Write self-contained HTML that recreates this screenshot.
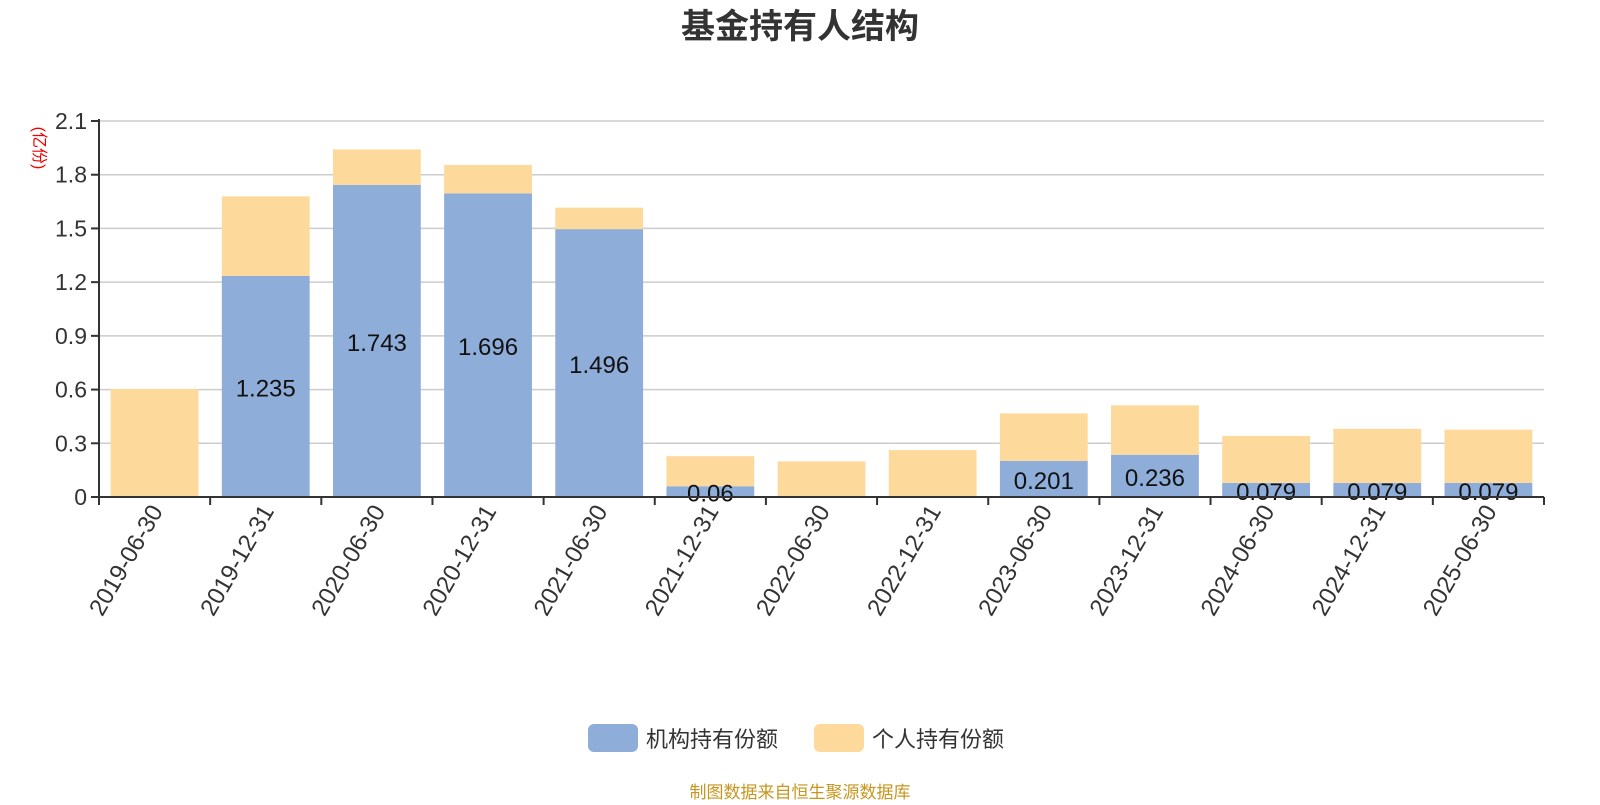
<!DOCTYPE html>
<html><head><meta charset="utf-8"><style>
body{margin:0;background:#fff;width:1600px;height:800px;overflow:hidden;font-family:"Liberation Sans","Noto Sans CJK SC",sans-serif}
</style></head><body>
<svg id="c" width="1600" height="800" style="font-family:'Liberation Sans','Noto Sans CJK SC',sans-serif">
<text x="800" y="38" text-anchor="middle" font-size="34" font-weight="bold" fill="#333">基金持有人结构</text>
<text x="0" y="0" transform="translate(34,148) rotate(90)" text-anchor="middle" font-size="16" fill="#e00">(亿份)</text>
<g id="grid"></g><g id="bars"></g><g id="axes"></g>
<g>
<rect x="588" y="724" width="50" height="28" rx="6" fill="#8eadd9"/>
<text x="646" y="747" font-size="22" fill="#333">机构持有份额</text>
<rect x="814" y="724" width="50" height="28" rx="6" fill="#fdd99b"/>
<text x="872" y="747" font-size="22" fill="#333">个人持有份额</text>
</g>
<text x="800" y="798" text-anchor="middle" font-size="17" fill="#c8961e">制图数据来自恒生聚源数据库</text>
</svg>
<script>
const categories=["2019-06-30","2019-12-31","2020-06-30","2020-12-31","2021-06-30","2021-12-31","2022-06-30","2022-12-31","2023-06-30","2023-12-31","2024-06-30","2024-12-31","2025-06-30"];
const institution=[0,1.235,1.743,1.696,1.496,0.06,0,0,0.201,0.236,0.079,0.079,0.079];
const individual=[0.603,0.444,0.198,0.159,0.12,0.168,0.199,0.262,0.266,0.276,0.262,0.302,0.297];
const yTicks=[0,0.3,0.6,0.9,1.2,1.5,1.8,2.1];
const NS="http://www.w3.org/2000/svg";
const X0=99,X1=1544,Y0=497,Y1=121,YMAX=2.1;
const bw=(X1-X0)/categories.length;
const y=v=>Y0-(v/YMAX)*(Y0-Y1);
const xc=i=>X0+bw*(i+0.5);
function mk(t,a,p){const e=document.createElementNS(NS,t);for(const k in a)e.setAttribute(k,a[k]);p.appendChild(e);return e;}
const grid=document.getElementById('grid'),bars=document.getElementById('bars'),axes=document.getElementById('axes');
yTicks.forEach(v=>{
 if(v>0){const l=mk('line',{x1:X0,x2:X1,y1:y(v),y2:y(v),stroke:'#ccc','stroke-width':1.5},grid);
 
 }
 const tk=mk('line',{x1:X0-8,x2:X0,y1:y(v),y2:y(v),stroke:'#333','stroke-width':2},axes);
 
 
 const t=mk('text',{x:X0-12,y:y(v)+8,'text-anchor':'end','font-size':23,fill:'#333'},axes);
 t.textContent=String(v);
 
 
});
const bwid=bw*0.79;
categories.forEach((c,i)=>{
 const x=xc(i)-bwid/2;
 const r1=mk('rect',{x:x,y:y(institution[i]),width:bwid,height:Y0-y(institution[i]),fill:'#8eadd9'},bars);
 
 
 const tot=institution[i]+individual[i];
 const r2=mk('rect',{x:x,y:y(tot),width:bwid,height:y(institution[i])-y(tot),fill:'#fdd99b'},bars);
 
 
 if(institution[i]>0){
 const lt=mk('text',{x:xc(i),y:(y(institution[i])+Y0)/2+10,'text-anchor':'middle','font-size':24,fill:'#111'},bars);
 lt.textContent=String(institution[i]);
 
 
 }
 const tk=mk('line',{x1:X0+bw*i,x2:X0+bw*i,y1:Y0,y2:Y0+8,stroke:'#333','stroke-width':2},axes);
 
 
 const xt=mk('text',{x:0,y:0,transform:`translate(${xc(i)+9},${Y0+14}) rotate(-60)`,'text-anchor':'end','font-size':24,fill:'#333'},axes);
 xt.textContent=c;
 
 
});
const et=mk('line',{x1:X1,x2:X1,y1:Y0,y2:Y0+8,stroke:'#333','stroke-width':2},axes);


const ya=mk('line',{x1:X0,x2:X0,y1:Y1-2,y2:Y0,stroke:'#333','stroke-width':2},axes);


const xa=mk('line',{x1:X0,x2:X1,y1:Y0,y2:Y0,stroke:'#333','stroke-width':2},axes);


</script>
</body></html>
